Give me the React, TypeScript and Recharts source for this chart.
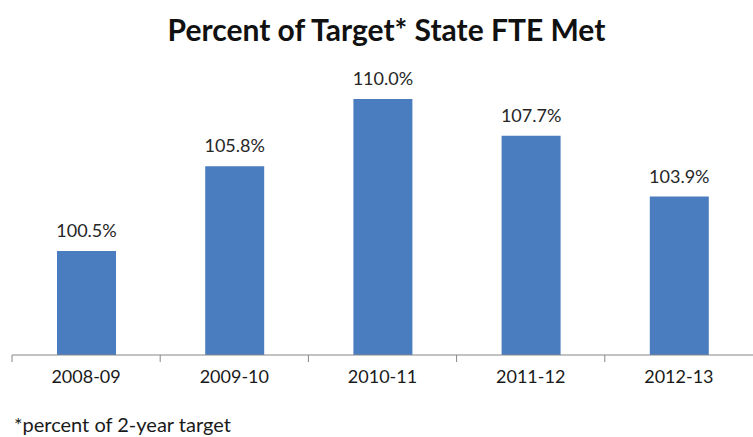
import React from "react";
import { BarChart, Bar, XAxis, YAxis, LabelList } from "recharts";

const categories = ["2008-09", "2009-10", "2010-11", "2011-12", "2012-13"];
const percentMet = [100.5, 105.8, 110.0, 107.7, 103.9];
const title = "Percent of Target* State FTE Met";
const footnote = "*percent of 2-year target";

const data = categories.map((c, i) => ({ name: c, value: percentMet[i] }));

const FONT = "Lato, 'Open Sans', sans-serif";

const Tick = (props: any) => {
  const { x, y, payload, width, visibleTicksCount } = props;
  const band = width / (visibleTicksCount || 5);
  return (
    <g>
      <line x1={x - band / 2} y1={y - 8} x2={x - band / 2} y2={y - 1} stroke="#868686" />
      <text x={x} y={y + 20} textAnchor="middle" fontSize={18} fill="#1a1a1a" fontFamily={FONT}>
        {payload.value}
      </text>
    </g>
  );
};

export default function App() {
  return (
    <div style={{ position: "absolute", left: 0, top: 0, width: 753, height: 437, background: "#fff" }}>
      <div
        style={{
          position: "absolute",
          left: 0,
          top: 11,
          width: 773,
          textAlign: "center",
          fontFamily: FONT,
          fontWeight: 700,
          fontSize: 30,
          color: "#111",
          whiteSpace: "nowrap",
        }}
      >
        {title}
      </div>
      <BarChart
        width={753}
        height={437}
        data={data}
        margin={{ top: 67, right: 0, left: 12, bottom: 52 }}
      >
        <YAxis hide domain={[94, 112]} />
        <XAxis
          dataKey="name"
          height={30}
          stroke="#868686"
          tickLine={false}
          tick={<Tick />}
          interval={0}
        />
        <Bar dataKey="value" fill="#4A7DC0" barSize={59} isAnimationActive={false}>
          <LabelList
            dataKey="value"
            position="top"
            offset={14}
            formatter={(v: any) => `${Number(v).toFixed(1)}%`}
            style={{ fontSize: 18, fill: "#262626", fontFamily: FONT }}
          />
        </Bar>
      </BarChart>
      <div
        style={{
          position: "absolute",
          left: 14,
          top: 412,
          fontFamily: FONT,
          fontSize: 20,
          color: "#1a1a1a",
          whiteSpace: "nowrap",
        }}
      >
        {footnote}
      </div>
    </div>
  );
}
